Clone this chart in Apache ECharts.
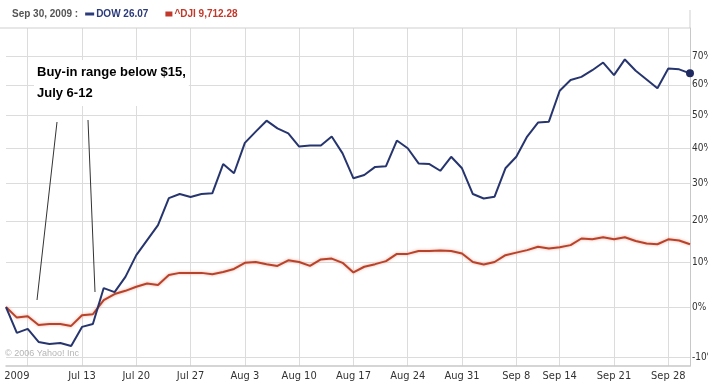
<!DOCTYPE html>
<html>
<head>
<meta charset="utf-8">
<style>
  html, body { margin: 0; padding: 0; background: #fff; }
  #chart { width: 708px; height: 384px; }
</style>
<script src="https://cdn.jsdelivr.net/npm/echarts@6/dist/echarts.min.js"></script>
</head>
<body>
<div id="chart"></div>
<script>
// Trading days, Q3 2009
const days = [
  '2009-07-01','2009-07-02','2009-07-06','2009-07-07','2009-07-08','2009-07-09','2009-07-10',
  '2009-07-13','2009-07-14','2009-07-15','2009-07-16','2009-07-17',
  '2009-07-20','2009-07-21','2009-07-22','2009-07-23','2009-07-24',
  '2009-07-27','2009-07-28','2009-07-29','2009-07-30','2009-07-31',
  '2009-08-03','2009-08-04','2009-08-05','2009-08-06','2009-08-07',
  '2009-08-10','2009-08-11','2009-08-12','2009-08-13','2009-08-14',
  '2009-08-17','2009-08-18','2009-08-19','2009-08-20','2009-08-21',
  '2009-08-24','2009-08-25','2009-08-26','2009-08-27','2009-08-28',
  '2009-08-31','2009-09-01','2009-09-02','2009-09-03','2009-09-04',
  '2009-09-08','2009-09-09','2009-09-10','2009-09-11',
  '2009-09-14','2009-09-15','2009-09-16','2009-09-17','2009-09-18',
  '2009-09-21','2009-09-22','2009-09-23','2009-09-24','2009-09-25',
  '2009-09-28','2009-09-29','2009-09-30'
];

// Percent change since 2009-07-01 close
const dowPct = [
  0, -5.3, -4.5, -7.1, -7.5, -7.3, -7.9,
  -4.1, -3.5, 4.1, 3.2, 6.6,
  11.6, 15.2, 18.9, 25.9, 27.0,
  26.2, 27.0, 27.2, 35.3, 32.7,
  41.5, 44.9, 48.3, 45.9, 44.4,
  40.4, 40.7, 40.7, 43.4, 38.4,
  31.3, 32.2, 34.5, 34.7, 42.2,
  39.9, 35.5, 35.3, 33.4, 37.4,
  34.1, 27.0, 25.8, 26.3, 34.1,
  37.4, 43.4, 47.7, 48.0,
  58.0, 61.6, 62.7, 65.0, 67.7,
  63.3, 68.8, 64.8, 61.8, 58.8,
  65.6, 65.3, 63.9
];
const djiPct = [
  0, -2.2, -1.9, -3.7, -3.5, -3.5, -3.9,
  -1.7, -1.5, 1.5, 2.8, 3.5,
  4.4, 5.1, 4.8, 7.0, 7.5,
  7.5, 7.5, 7.2, 7.7, 8.4,
  9.8, 10.0, 9.5, 9.1, 10.4,
  10.0, 9.1, 10.6, 10.8, 9.8,
  7.6, 8.9, 9.5, 10.2, 11.9,
  11.9, 12.6, 12.6, 12.7, 12.6,
  12.0, 10.0, 9.4, 10.0, 11.6,
  12.2, 12.8, 13.6, 13.2,
  13.5, 14.0, 15.6, 15.4, 15.9,
  15.4, 15.9, 15.0, 14.4, 14.2,
  15.4, 15.1, 14.2
];

// Axis ticks
const yTicks = [-10, 0, 10, 20, 30, 40, 50, 60, 70];
const gridDays = [
  '2009-07-06','2009-07-13','2009-07-20','2009-07-27','2009-08-03','2009-08-10','2009-08-17',
  '2009-08-24','2009-08-31','2009-09-08','2009-09-14','2009-09-21','2009-09-28'
];
const xLabelDays = [
  '2009-07-02','2009-07-13','2009-07-20','2009-07-27','2009-08-03','2009-08-10','2009-08-17',
  '2009-08-24','2009-08-31','2009-09-08','2009-09-14','2009-09-21','2009-09-28'
];
const xLabelText = [
  '2009','Jul 13','Jul 20','Jul 27','Aug 3','Aug 10','Aug 17',
  'Aug 24','Aug 31','Sep 8','Sep 14','Sep 21','Sep 28'
];

const FONT = "'DejaVu Sans Condensed','Liberation Sans',sans-serif";
const HEAD_FONT = "'Liberation Sans',Arial,sans-serif";
const toRatio = p => 1 + p / 100;

const dowData = dowPct.map(toRatio);
dowData[dowData.length - 1] = { value: dowData[dowData.length - 1], symbol: 'circle', symbolSize: 8 };

const chart = echarts.init(document.getElementById('chart'), null, { renderer: 'canvas' });

chart.setOption({
  animation: false,
  backgroundColor: '#fff',
  textStyle: { fontFamily: FONT },
  title: {
    left: 12,
    top: 9,
    padding: 0,
    text: '{d|Sep 30, 2009 :}{g1| }{bs| }{g2| }{bt|DOW 26.07}{g3| }{rs| }{g2| }{rt|^DJI 9,712.28}',
    textStyle: {
      fontFamily: HEAD_FONT,
      fontWeight: 'normal',
      rich: {
        d: { color: '#555', fontSize: 10, fontFamily: HEAD_FONT, fontWeight: 'bold' },
        g1: { width: 7, fontSize: 10 },
        g2: { width: 2, fontSize: 10 },
        g3: { width: 17, fontSize: 10 },
        bs: { backgroundColor: '#2b3a7a', width: 9, height: 3, fontSize: 3 },
        bt: { color: '#2b3a7a', fontSize: 10, fontFamily: HEAD_FONT, fontWeight: 'bold' },
        rs: { backgroundColor: '#c0392b', width: 7, height: 5, fontSize: 5 },
        rt: { color: '#c0392b', fontSize: 10, fontFamily: HEAD_FONT, fontWeight: 'bold' }
      }
    }
  },
  grid: { left: 6, right: 18, top: 28, bottom: 18, containLabel: false, outerBoundsMode: 'none' },
  xAxis: {
    type: 'category',
    data: days,
    boundaryGap: false,
    axisLine: { lineStyle: { color: '#c8c8c8', width: 1.5 } },
    axisTick: { show: false },
    axisLabel: {
      interval: (i, v) => xLabelDays.includes(v),
      formatter: v => xLabelText[xLabelDays.indexOf(v)] || '',
      color: '#333',
      fontSize: 11,
      fontFamily: FONT,
      margin: 5
    },
    splitLine: {
      show: true,
      interval: (i, v) => gridDays.includes(v),
      lineStyle: { color: '#dcdcdc', width: 1 }
    }
  },
  yAxis: {
    type: 'log',
    logBase: 10,
    min: 0.8829,
    max: 1.804,
    position: 'right',
    axisLine: { show: true, lineStyle: { color: '#c8c8c8' } },
    axisTick: { show: false, customValues: yTicks.map(toRatio) },
    axisLabel: {
      customValues: yTicks.map(toRatio),
      formatter: v => Math.round((v - 1) * 100) + '%',
      color: '#333',
      fontSize: 10,
      fontFamily: FONT,
      margin: 2
    },
    splitLine: { show: true, lineStyle: { color: '#dcdcdc', width: 1 } }
  },
  series: [
    {
      name: '^DJI',
      type: 'line',
      data: djiPct.map(toRatio),
      symbol: 'none',
      lineStyle: {
        color: '#b8432a',
        width: 2,
        shadowColor: 'rgba(240,150,130,0.8)',
        shadowBlur: 3
      },
      z: 2
    },
    {
      name: 'DOW',
      type: 'line',
      data: dowData,
      symbol: 'none',
      showSymbol: true,
      itemStyle: { color: '#1f2a60' },
      lineStyle: { color: '#27356e', width: 2 },
      z: 3
    }
  ],
  graphic: [
    { type: 'line', shape: { x1: 0, y1: 28, x2: 690, y2: 28 }, style: { stroke: '#cfcfcf', lineWidth: 1 }, z: 5 },
    { type: 'line', shape: { x1: 690, y1: 10, x2: 690, y2: 28 }, style: { stroke: '#cfcfcf', lineWidth: 1 }, z: 5 },
    {
      type: 'text',
      x: 34, y: 60, z: 100,
      style: {
        text: 'Buy-in range below $15,\nJuly 6-12',
        font: 'bold 13px ' + HEAD_FONT,
        fill: '#000',
        lineHeight: 21,
        backgroundColor: '#fff',
        padding: [2, 3]
      }
    },
    { type: 'line', shape: { x1: 57, y1: 122, x2: 37, y2: 300 }, style: { stroke: '#333', lineWidth: 1 }, z: 100 },
    { type: 'line', shape: { x1: 88, y1: 120, x2: 95, y2: 292 }, style: { stroke: '#333', lineWidth: 1 }, z: 100 },
    {
      type: 'text',
      x: 5, y: 349, z: 100,
      style: { text: '© 2006 Yahoo! Inc', font: '9px ' + HEAD_FONT, fill: '#b5b5b5' }
    }
  ]
});
</script>
</body>
</html>
